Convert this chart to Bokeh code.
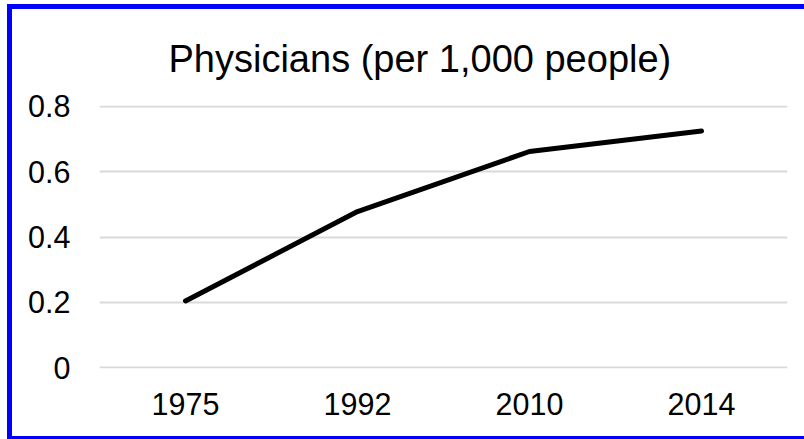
from bokeh.plotting import figure
from bokeh.models import FactorRange, Range1d, FixedTicker
from bokeh.embed import file_html
from bokeh.resources import INLINE

# Physicians per 1,000 people, by survey year
years = ["1975", "1992", "2010", "2014"]
physicians = [0.204, 0.478, 0.662, 0.725]

y_ticks = [0.0, 0.2, 0.4, 0.6, 0.8]
y_tick_labels = ["0", "0.2", "0.4", "0.6", "0.8"]

FONT = "Liberation Sans"

p = figure(
    width=797, height=427,
    x_range=FactorRange(*years),
    y_range=Range1d(-0.003, 0.803),
    output_backend="svg", toolbar_location=None,
    min_border_left=87, min_border_right=22,
    min_border_top=95, min_border_bottom=68,
    title="Physicians (per 1,000 people)",
)

# blue frame on the left, top and bottom edges of the chart element
BLUE = "#0000ff"
p.styles = {
    "position": "relative",
    "left": "12px",
    "top": "9px",
    "box-shadow": (
        f"-5px 0 0 0 {BLUE}, 0 -5px 0 0 {BLUE}, 0 5px 0 0 {BLUE}, "
        f"-5px -5px 0 0 {BLUE}, -5px 5px 0 0 {BLUE}"
    ),
}

p.title.align = "left"
p.title.offset = 69
p.title.text_font = FONT
p.title.text_font_size = "38px"
p.title.text_font_style = "normal"
p.title.text_color = "#000000"
p.title.standoff = 52

p.outline_line_color = None
p.background_fill_color = "white"
p.border_fill_color = "white"

p.line(years, physicians, line_color="black", line_width=5, line_cap="round", line_join="round")

# axes
p.yaxis.ticker = FixedTicker(ticks=y_ticks)
p.yaxis.major_label_overrides = {t: s for t, s in zip(y_ticks, y_tick_labels)}
for ax in (p.xaxis[0], p.yaxis[0]):
    ax.axis_line_color = None
    ax.major_tick_line_color = None
    ax.minor_tick_line_color = None
    ax.major_tick_out = 0
    ax.major_tick_in = 0
    ax.major_label_text_font = FONT
    ax.major_label_text_font_size = "30.5px"
    ax.major_label_text_color = "#000000"
p.yaxis.major_label_standoff = 29
p.xaxis.major_label_standoff = 24

p.xgrid.grid_line_color = None
p.ygrid.grid_line_color = "#d9d9d9"
p.ygrid.grid_line_width = 2

open("out.html", "w").write(file_html(p, INLINE))
